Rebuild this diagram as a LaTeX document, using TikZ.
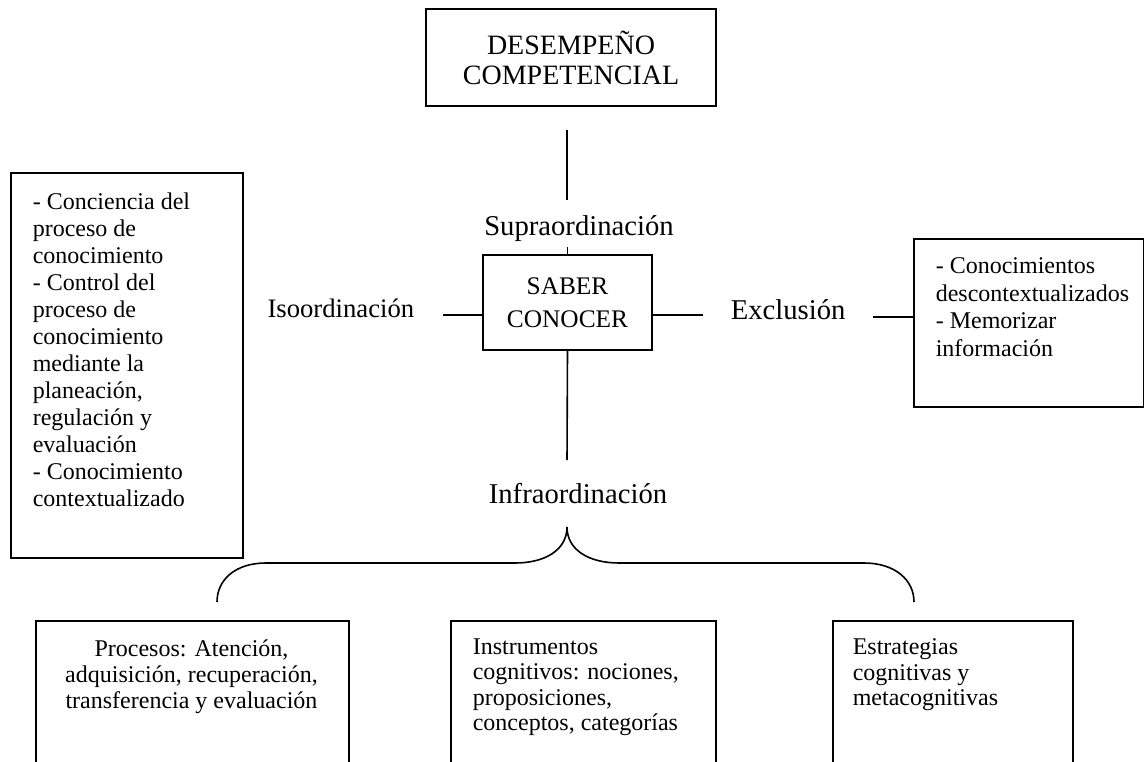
\documentclass[tikz,border=0pt]{standalone}
\usepackage{fontspec}
\setmainfont{Liberation Serif}
\usetikzlibrary{positioning}

\begin{document}
\begin{tikzpicture}[x=0.75pt, y=-0.75pt, line width=1.2pt,
    caja/.style={draw, rectangle, inner sep=0pt, anchor=north west},
    rotulo/.style={font=\fontsize{21.5}{24}\selectfont, inner sep=0pt},
    texto/.style={font=\fontsize{18}{20.25}\selectfont, inner sep=0pt, align=left, anchor=north west}]
    \useasboundingbox (0,0) rectangle (1144,762);
    \clip (0,0) rectangle (1144,762);

    % centro del esquema
    \node[draw, minimum width=290*0.75pt, minimum height=97*0.75pt, align=center,
          font=\fontsize{21}{22.5}\selectfont] (desempeno) at (571,57.5) {DESEMPEÑO\\COMPETENCIAL};
    \node[draw, minimum width=169*0.75pt, minimum height=95*0.75pt, align=center,
          font=\fontsize{19}{24.75}\selectfont] (saber) at (567.5,302.5) {SABER\\CONOCER};

    \node[rotulo, anchor=base] (supra) at (579,236) {Supraordinación};
    \node[rotulo, anchor=base east, font=\fontsize{20}{24}\selectfont] (iso) at (415,318) {Isoordinación};
    \node[rotulo, anchor=base west] (excl) at (730,320) {Exclusión};
    \node[rotulo, anchor=base] (infra) at (578,503) {Infraordinación};

    % cajas laterales
    \node[caja, minimum width=232*0.75pt, minimum height=385*0.75pt] (izq) at (10,172) {};
    \node[texto] (izqtxt) at (32,192) {- Conciencia del\\proceso de\\conocimiento\\- Control del\\proceso de\\conocimiento\\mediante la\\planeación,\\regulación y\\evaluación\\- Conocimiento\\contextualizado};
    \node[caja, minimum width=230*0.75pt, minimum height=168*0.75pt] (der) at (913,238) {};
    \node[texto, font=\fontsize{18}{20.6}\selectfont] (dertxt) at (935,257) {- Conocimientos\\descontextualizados\\- Memorizar\\información};

    % cajas de abajo
    \node[caja, minimum width=313*0.75pt, minimum height=300*0.75pt] (procesos) at (35,620) {};
    \node[texto, font=\fontsize{18}{19.5}\selectfont, align=center, anchor=north] (procesostxt) at (191.5,639) {Procesos: Atención,\\adquisición, recuperación,\\transferencia y evaluación};
    \node[caja, minimum width=265*0.75pt, minimum height=300*0.75pt] (instrumentos) at (450,620) {};
    \node[texto, font=\fontsize{18}{19}\selectfont] (instrumentostxt) at (472,638) {Instrumentos\\cognitivos: nociones,\\proposiciones,\\conceptos, categorías};
    \node[caja, minimum width=240*0.75pt, minimum height=300*0.75pt] (estrategias) at (832,620) {};
    \node[texto, font=\fontsize{18}{19}\selectfont] (estrategiastxt) at (852,638) {Estrategias\\cognitivas y\\metacognitivas};

    % lineas
    \coordinate (s1) at (567,130);
    \coordinate (s2) at (567,200);
    \draw (s1) -- (s2);
    \draw (saber.north) -- ++(0,-7);
    \coordinate (isoL) at (443,315);
    \draw (isoL) -- (isoL -| saber.west);
    \coordinate (exR) at (703,315);
    \draw (exR) -- (exR -| saber.east);
    \coordinate (exD) at (873,317);
    \draw (exD) -- (exD -| der.west);
    \coordinate (infT) at (567,460);
    \draw (saber.south) -- (infT);

    % llave
    \coordinate (pico) at (567,527);
    \draw (pico) .. controls (567,550) and (545,563) .. (515,563) -- (266,563)
        .. controls (235,563) and (217,580) .. (217,602);
    \draw (pico) .. controls (567,550) and (589,563) .. (619,563) -- (864,563)
        .. controls (895,563) and (914,580) .. (914,602);
\end{tikzpicture}
\end{document}
